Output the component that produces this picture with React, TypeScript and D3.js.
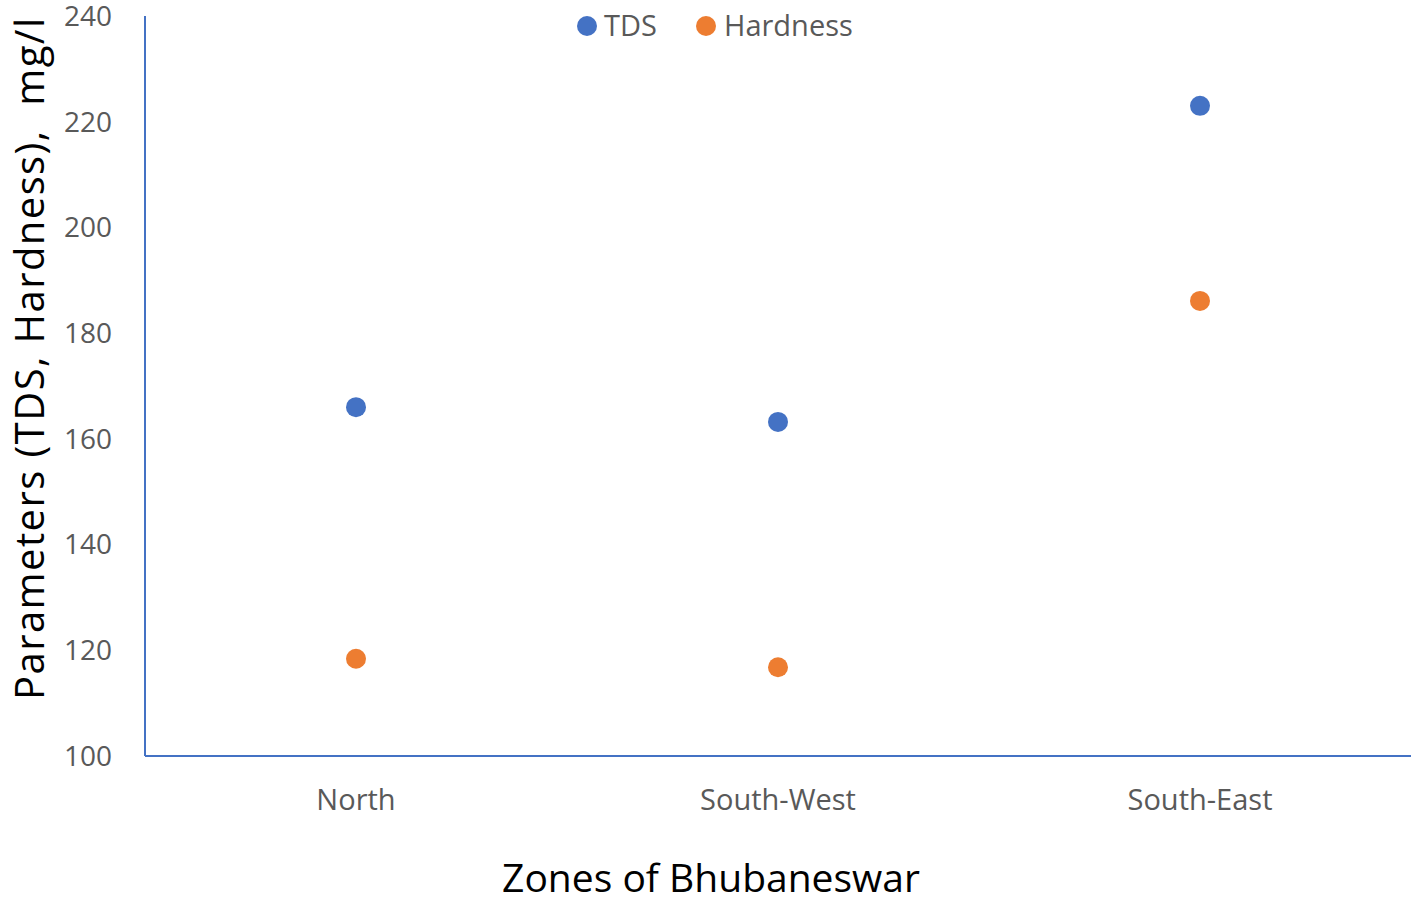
import React from "react";
import * as d3 from "d3";

const zones = ["North", "South-West", "South-East"];
const tdsValues = [166, 163.2, 223];
const hardnessValues = [118.4, 116.8, 186.1];
const yTicks = [100, 120, 140, 160, 180, 200, 220, 240];
const seriesNames = ["TDS", "Hardness"];
const seriesColors = ["#4472C4", "#ED7D31"];

export default function App() {
  const W = 1417, H = 899;
  const left = 145, right = 1411, top = 16, bottom = 756;
  const x = d3.scaleBand<string>().domain(zones).range([left, right]);
  const y = d3.scaleLinear().domain([100, 240]).range([bottom, top]);
  const font = "'Open Sans', 'Noto Sans', sans-serif";
  const series = [tdsValues, hardnessValues];
  return (
    <svg width={W} height={H} style={{ position: "absolute", left: 0, top: 0 }} fontFamily={font}>
      <rect width={W} height={H} fill="#fff" />
      {yTicks.map((t) => (
        <text key={t} x={112} y={y(t)} dy="0.35em" textAnchor="end" fontSize={28} fill="#595959">{t}</text>
      ))}
      {zones.map((z) => (
        <text key={z} x={x(z)! + x.bandwidth() / 2} y={800} dy="0.35em" textAnchor="middle" fontSize={29} fill="#595959">{z}</text>
      ))}
      <line x1={left} x2={left} y1={top} y2={bottom} stroke="#4472C4" strokeWidth={2} />
      <line x1={left} x2={right} y1={bottom} y2={bottom} stroke="#4472C4" strokeWidth={2} />
      {series.map((vals, si) =>
        vals.map((v, i) => (
          <circle key={si + "-" + i} cx={x(zones[i])! + x.bandwidth() / 2} cy={y(v)} r={10} fill={seriesColors[si]} />
        ))
      )}
      <g>
        <circle cx={587} cy={26} r={10} fill={seriesColors[0]} />
        <text x={604} y={26} dy="0.35em" fontSize={29} fill="#595959">{seriesNames[0]}</text>
        <circle cx={706} cy={26} r={10} fill={seriesColors[1]} />
        <text x={724} y={26} dy="0.35em" fontSize={29} fill="#595959">{seriesNames[1]}</text>
      </g>
      <text x={711} y={878} dy="0.35em" textAnchor="middle" fontSize={39} fill="#000">Zones of Bhubaneswar</text>
      <text transform={`translate(30,359) rotate(-90)`} dy="0.35em" textAnchor="middle" fontSize={40} fill="#000" textLength={682} lengthAdjust="spacing" style={{ whiteSpace: "pre" }}>{"Parameters (TDS, Hardness),  mg/l"}</text>
    </svg>
  );
}
